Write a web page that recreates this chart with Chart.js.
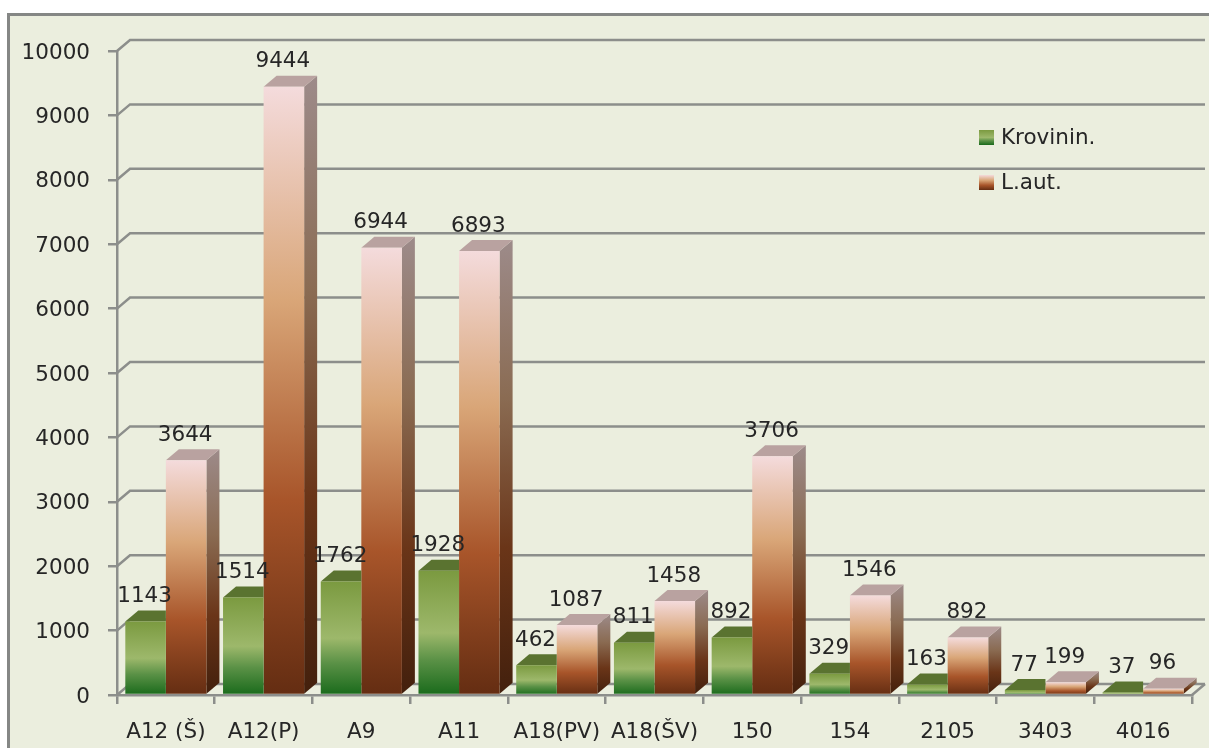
<!DOCTYPE html>
<html>
<head>
<meta charset="utf-8">
<title>Krovinin. / L.aut.</title>
<script src="https://cdn.jsdelivr.net/npm/chart.js@4"></script>
<style>
    html, body { margin: 0; padding: 0; background: #fff; overflow: hidden; }
    #panel {
        position: absolute; left: 7px; top: 13px; width: 1202px; height: 735px;
        box-sizing: border-box; background: #ebeede;
        border-left: 3px solid #858785; border-top: 3px solid #858785;
    }
    #chart { position: absolute; left: 0; top: 0; display: block; }
</style>
</head>
<body>
<div id="panel"></div>
<canvas id="chart" width="1209" height="748"></canvas>
<script>
const categories = ["A12 (Š)", "A12(P)", "A9", "A11", "A18(PV)", "A18(ŠV)", "150", "154", "2105", "3403", "4016"];
const krovinin = [1143, 1514, 1762, 1928, 462, 811, 892, 329, 163, 77, 37];
const laut = [3644, 9444, 6944, 6893, 1087, 1458, 3706, 1546, 892, 199, 96];

const FONT_SIZE = 21.5;
const FONT = FONT_SIZE + "px 'DejaVu Sans'";
const TEXT = "#262626";
const GRID = "#8c8e8b";
const DX = 13; // depth of the fake 3D
const DY = 11;

const palette = [
    {
        front: [[0, "#7b9a40"], [0.5, "#9db86b"], [0.72, "#5a9146"], [1, "#196a1b"]],
        side: [[0, "#5f7a30"], [1, "#124d14"]],
        top: "#5a7330"
    },
    {
        front: [[0, "#f4dbdc"], [0.35, "#d9a678"], [0.68, "#a8552a"], [1, "#642d12"]],
        side: [[0, "#9d8b8a"], [0.35, "#8a6b52"], [0.68, "#6a3518"], [1, "#43200d"]],
        top: "#b9a2a0"
    }
];

function makeGradient(ctx, stops, y0, y1) {
    const g = ctx.createLinearGradient(0, y0, 0, y1);
    stops.forEach((s) => g.addColorStop(s[0], s[1]));
    return g;
}

// Function to fill a flat face
function fillFace(ctx, pts, fill) {
    ctx.beginPath();
    ctx.moveTo(pts[0][0], pts[0][1]);
    for (let i = 1; i < pts.length; i++) ctx.lineTo(pts[i][0], pts[i][1]);
    ctx.closePath();
    ctx.fillStyle = fill;
    ctx.fill();
}

// Back wall lines and the little slanted joins to the axis
const backGrid = {
    id: "backGrid",
    beforeDatasetsDraw(chart) {
        const { ctx, scales } = chart;
        const area = chart.chartArea;
        ctx.save();
        ctx.strokeStyle = GRID;
        ctx.lineWidth = 2.5;
        scales.y.ticks.forEach((t) => {
            const y = scales.y.getPixelForValue(t.value);
            ctx.beginPath();
            ctx.moveTo(area.left, y);
            ctx.lineTo(area.left + DX, y - DY);
            ctx.lineTo(area.right + DX, y - DY);
            ctx.stroke();
        });
        ctx.beginPath();
        ctx.moveTo(area.right, area.bottom);
        ctx.lineTo(area.right + DX, area.bottom - DY);
        ctx.stroke();
        ctx.restore();
    }
};

// Side and top faces, drawn just before each dataset's front faces.
// Chart.js paints the first dataset last, so the green bars stop at their
// right edge: the rest of their depth is behind the orange neighbour.
const bar3d = {
    id: "bar3d",
    beforeDatasetDraw(chart, args) {
        const { ctx } = chart;
        const colors = palette[args.index];
        args.meta.data.forEach((bar) => {
            const l = bar.x - bar.width / 2;
            const r = bar.x + bar.width / 2;
            if (args.index === 0) {
                fillFace(ctx, [[l, bar.y], [l + DX, bar.y - DY], [r, bar.y - DY], [r, bar.y]], colors.top);
                return;
            }
            fillFace(ctx, [[r, bar.y], [r + DX, bar.y - DY], [r + DX, bar.base - DY], [r, bar.base]],
                makeGradient(ctx, colors.side, bar.y - DY, bar.base));
            fillFace(ctx, [[l, bar.y], [l + DX, bar.y - DY], [r + DX, bar.y - DY], [r, bar.y]], colors.top);
        });
    }
};

// Value labels and the legend sit on top of everything
const overlay = {
    id: "overlay",
    afterDatasetsDraw(chart) {
        const { ctx } = chart;
        ctx.save();
        ctx.font = FONT;
        ctx.fillStyle = TEXT;
        ctx.textAlign = "center";
        ctx.textBaseline = "middle";
        chart.data.datasets.forEach((ds, i) => {
            chart.getDatasetMeta(i).data.forEach((bar, j) => {
                ctx.fillText(String(ds.data[j]), bar.x - 1, bar.y - 25);
            });
        });

        const legendX = 979;
        const legendY = [130, 175];
        ctx.textAlign = "left";
        chart.data.datasets.forEach((ds, i) => {
            const y = legendY[i];
            ctx.fillStyle = makeGradient(ctx, palette[i].front, y, y + 15);
            ctx.fillRect(legendX, y, 15, 15);
            ctx.fillStyle = TEXT;
            ctx.fillText(ds.label, legendX + 22, y + 8);
        });
        ctx.restore();
    }
};

function frontGradient(i) {
    return (c) => {
        const chart = c.chart;
        if (!chart.chartArea || c.raw === undefined) return palette[i].front[0][1];
        const scale = chart.scales.y;
        return makeGradient(chart.ctx, palette[i].front, scale.getPixelForValue(c.raw), scale.getPixelForValue(0));
    };
}

new Chart(document.getElementById("chart").getContext("2d"), {
    type: "bar",
    data: {
        labels: categories,
        datasets: [
            { label: "Krovinin.", data: krovinin, backgroundColor: frontGradient(0) },
            { label: "L.aut.", data: laut, backgroundColor: frontGradient(1) }
        ]
    },
    options: {
        responsive: false,
        animation: false,
        devicePixelRatio: 1,
        categoryPercentage: 0.83,
        barPercentage: 1,
        layout: { padding: { top: 51, right: 17, left: 0, bottom: 0 } },
        plugins: { legend: { display: false }, tooltip: { enabled: false } },
        scales: {
            x: {
                afterFit(scale) { scale.height = 53; },
                grid: { drawOnChartArea: false, color: GRID, lineWidth: 2.5, tickLength: 9 },
                border: { color: GRID, width: 2.5 },
                ticks: {
                    autoSkip: false, maxRotation: 0, minRotation: 0, padding: 16,
                    color: TEXT, font: { family: "'DejaVu Sans'", size: FONT_SIZE }
                }
            },
            y: {
                min: 0,
                max: 10000,
                afterFit(scale) { scale.width = 117; },
                grid: { drawOnChartArea: false, color: GRID, lineWidth: 2.5, tickLength: 9 },
                border: { color: GRID, width: 2.5 },
                ticks: {
                    stepSize: 1000, padding: 18, labelOffset: 2,
                    callback: (value) => String(value),
                    color: TEXT, font: { family: "'DejaVu Sans'", size: FONT_SIZE }
                }
            }
        }
    },
    plugins: [backGrid, bar3d, overlay]
});
</script>
</body>
</html>
